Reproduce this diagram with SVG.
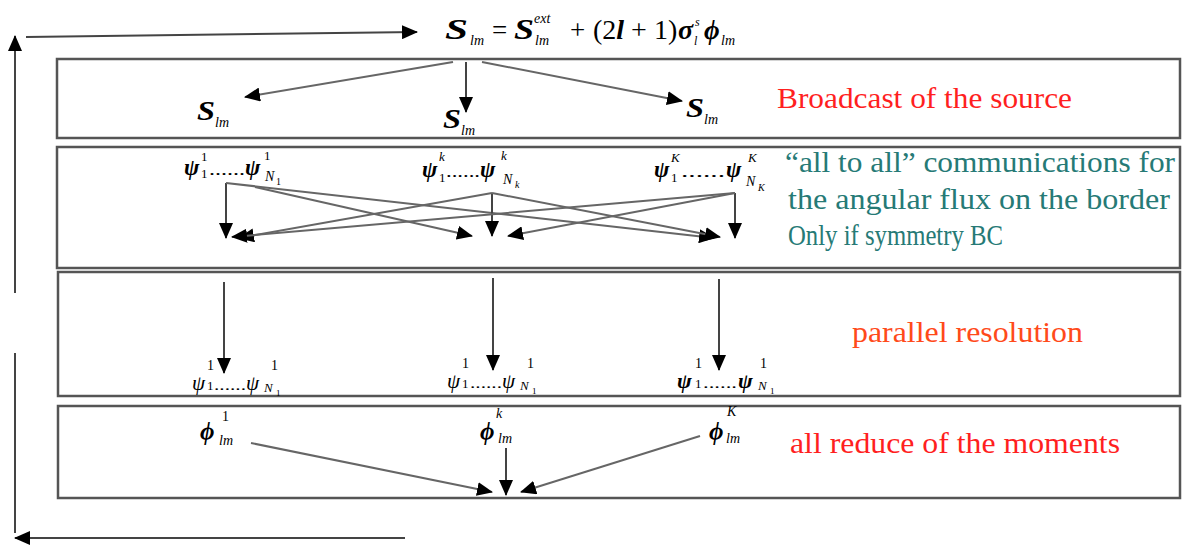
<svg xmlns="http://www.w3.org/2000/svg" width="1182" height="547" viewBox="0 0 1182 547">
<style>
.box{fill:#fff;stroke:#555;stroke-width:2.5}
.m{font-family:"Liberation Serif",serif;fill:#000}
.b{font-weight:bold;font-style:italic}
.i{font-style:italic}
.c{fill:none;stroke:#666;stroke-width:2}
.k{fill:none;stroke:#444;stroke-width:2}
.red{font-family:"Liberation Serif",serif;fill:#ff1f1f;font-size:30px}
.teal{font-family:"Liberation Serif",serif;fill:#267a76;font-size:30px}
.org{font-family:"Liberation Serif",serif;fill:#ff4a1a;font-size:30px}
</style>
<defs>
<marker id="ah" viewBox="0 0 16 14" refX="15" refY="7" markerWidth="16" markerHeight="14" markerUnits="userSpaceOnUse" orient="auto">
<path d="M0,0 L16,7 L0,14 Z" fill="#000"/>
</marker>
</defs>
<rect width="1182" height="547" fill="#fff"/>

<g id="box1"><rect class="box" x="57" y="59" width="1123" height="79"/></g>
<g id="box2"><rect class="box" x="57" y="147" width="1123" height="121"/></g>
<g id="box3"><rect class="box" x="58" y="272" width="1122" height="124"/></g>
<g id="box4"><rect class="box" x="58" y="406" width="1122" height="92"/></g>

<g id="formula" class="m">
<text x="445" y="39" font-size="29" class="b" textLength="23" lengthAdjust="spacingAndGlyphs">S</text>
<text x="470" y="45" font-size="14" class="i">lm</text>
<text x="492" y="39" font-size="27">=</text>
<text x="514" y="39" font-size="29" class="b" textLength="20" lengthAdjust="spacingAndGlyphs">S</text>
<text x="534" y="23" font-size="14" class="i">ext</text>
<text x="535" y="45" font-size="14" class="i">lm</text>
<text x="570" y="39" font-size="27">+</text>
<text x="593" y="39" font-size="28">(2<tspan class="b">l</tspan> + 1)</text>
<text x="678" y="39" font-size="28" class="b">σ</text>
<text x="695" y="26" font-size="12" class="i">s</text>
<text x="694" y="45" font-size="12" class="i">l</text>
<text x="704" y="39" font-size="27" class="b">ϕ</text>
<text x="721" y="45" font-size="14" class="i">lm</text>
</g>

<g id="broadcast">
<g class="m"><text x="197" y="120" font-size="28" class="b" textLength="18" lengthAdjust="spacingAndGlyphs">S</text><text x="215" y="127" font-size="14" class="i">lm</text></g>
<g class="m"><text x="443" y="128" font-size="28" class="b" textLength="18" lengthAdjust="spacingAndGlyphs">S</text><text x="461" y="135" font-size="14" class="i">lm</text></g>
<g class="m"><text x="686" y="117" font-size="28" class="b" textLength="18" lengthAdjust="spacingAndGlyphs">S</text><text x="704" y="124" font-size="14" class="i">lm</text></g>
<text class="red" x="777" y="108" textLength="295" lengthAdjust="spacingAndGlyphs">Broadcast of the source</text>
</g>

<g id="alltoall">
<g class="m">
<text x="184" y="175" font-size="23" class="b">ψ</text><text x="201" y="161" font-size="13">1</text><text x="201" y="178" font-size="13">1</text>
<text x="209" y="175" font-size="16" textLength="36" lengthAdjust="spacingAndGlyphs">......</text>
<text x="245" y="175" font-size="23" class="b">ψ</text><text x="264" y="160" font-size="13">1</text><text x="265" y="181" font-size="14" class="i">N</text><text x="276" y="185" font-size="10">1</text>
</g>
<g class="m">
<text x="422" y="177" font-size="23" class="b">ψ</text><text x="439" y="161" font-size="13" class="i">k</text><text x="439" y="182" font-size="13">1</text>
<text x="446" y="177" font-size="16" textLength="34" lengthAdjust="spacingAndGlyphs">......</text>
<text x="480" y="177" font-size="23" class="b">ψ</text><text x="501" y="160" font-size="13" class="i">k</text><text x="503" y="184" font-size="14" class="i">N</text><text x="515" y="188" font-size="10" class="i">k</text>
</g>
<g class="m">
<text x="654" y="177" font-size="23" class="b">ψ</text><text x="671" y="162" font-size="13" class="i">K</text><text x="671" y="182" font-size="13">1</text>
<text x="681" y="177" font-size="16" textLength="44" lengthAdjust="spacingAndGlyphs">......</text>
<text x="726" y="177" font-size="23" class="b">ψ</text><text x="748" y="162" font-size="13" class="i">K</text><text x="746" y="186" font-size="14" class="i">N</text><text x="758" y="191" font-size="10" class="i">K</text>
</g>
<text class="teal" x="785" y="172" textLength="390" lengthAdjust="spacingAndGlyphs">“all to all” communications for</text>
<text class="teal" x="788" y="209" textLength="382" lengthAdjust="spacingAndGlyphs">the angular flux on the border</text>
<text class="teal" x="788" y="245" textLength="215" lengthAdjust="spacingAndGlyphs">Only if symmetry BC</text>
</g>

<g id="parallel">
<g class="m">
<text x="192" y="390" font-size="21" class="i">ψ</text><text x="207" y="370" font-size="14">1</text><text x="207" y="390" font-size="13">1</text>
<text x="214" y="390" font-size="14" textLength="32" lengthAdjust="spacingAndGlyphs">......</text>
<text x="246" y="390" font-size="21" class="i">ψ</text><text x="271" y="370" font-size="14">1</text><text x="264" y="392" font-size="13" class="i">N</text><text x="276" y="396" font-size="9">1</text>
</g>
<g class="m">
<text x="447" y="388" font-size="21" class="i">ψ</text><text x="462" y="368" font-size="14">1</text><text x="462" y="388" font-size="13">1</text>
<text x="470" y="388" font-size="14" textLength="32" lengthAdjust="spacingAndGlyphs">......</text>
<text x="502" y="388" font-size="21" class="i">ψ</text><text x="527" y="368" font-size="14">1</text><text x="520" y="390" font-size="13" class="i">N</text><text x="532" y="394" font-size="9">1</text>
</g>
<g class="m">
<text x="677" y="388" font-size="22" class="b">ψ</text><text x="695" y="368" font-size="14">1</text><text x="695" y="388" font-size="13">1</text>
<text x="703" y="388" font-size="14" textLength="34" lengthAdjust="spacingAndGlyphs">......</text>
<text x="738" y="388" font-size="22" class="b">ψ</text><text x="760" y="368" font-size="14">1</text><text x="758" y="390" font-size="13" class="i">N</text><text x="770" y="394" font-size="9">1</text>
</g>
<text class="org" x="852" y="342" textLength="231" lengthAdjust="spacingAndGlyphs">parallel resolution</text>
</g>

<g id="reduce">
<g class="m"><text x="200" y="440" font-size="25" class="b">ϕ</text><text x="222" y="421" font-size="14">1</text><text x="219" y="445" font-size="14" class="i">lm</text></g>
<g class="m"><text x="480" y="440" font-size="25" class="b">ϕ</text><text x="496" y="418" font-size="14" class="i">k</text><text x="498" y="443" font-size="14" class="i">lm</text></g>
<g class="m"><text x="709" y="440" font-size="25" class="b">ϕ</text><text x="727" y="416" font-size="14" class="i">K</text><text x="726" y="443" font-size="14" class="i">lm</text></g>
<text class="red" x="790" y="453" textLength="330" lengthAdjust="spacingAndGlyphs">all reduce of the moments</text>
</g>

<g id="connectors">
<path class="k" d="M26,37 L417,32" marker-end="url(#ah)"/>
<path class="k" d="M15,293 L15,36" marker-end="url(#ah)"/>
<path class="k" d="M15,353 L15,533"/>
<path class="k" d="M405,538 L15,538" marker-end="url(#ah)"/>
<path class="c" d="M453,62 L245,97" marker-end="url(#ah)"/>
<path class="k" d="M466,62 L466,112" marker-end="url(#ah)"/>
<path class="c" d="M482,62 L682,101" marker-end="url(#ah)"/>
<path class="k" d="M226,183 L226,238" marker-end="url(#ah)"/>
<path class="c" d="M255,187 L472,236" marker-end="url(#ah)"/>
<path class="c" d="M226,183 L714,238" marker-end="url(#ah)"/>
<path class="k" d="M492,193 L492,236" marker-end="url(#ah)"/>
<path class="c" d="M492,193 L239,238" marker-end="url(#ah)"/>
<path class="c" d="M492,193 L720,237" marker-end="url(#ah)"/>
<path class="k" d="M735,193 L735,238" marker-end="url(#ah)"/>
<path class="c" d="M735,193 L232,237" marker-end="url(#ah)"/>
<path class="c" d="M735,193 L508,236" marker-end="url(#ah)"/>
<path class="k" d="M224,282 L224,373" marker-end="url(#ah)"/>
<path class="k" d="M493,278 L493,370" marker-end="url(#ah)"/>
<path class="k" d="M719,279 L719,370" marker-end="url(#ah)"/>
<path class="c" d="M251,443 L492,492" marker-end="url(#ah)"/>
<path class="k" d="M506,448 L506,495" marker-end="url(#ah)"/>
<path class="c" d="M700,436 L521,492" marker-end="url(#ah)"/>
</g>
</svg>
